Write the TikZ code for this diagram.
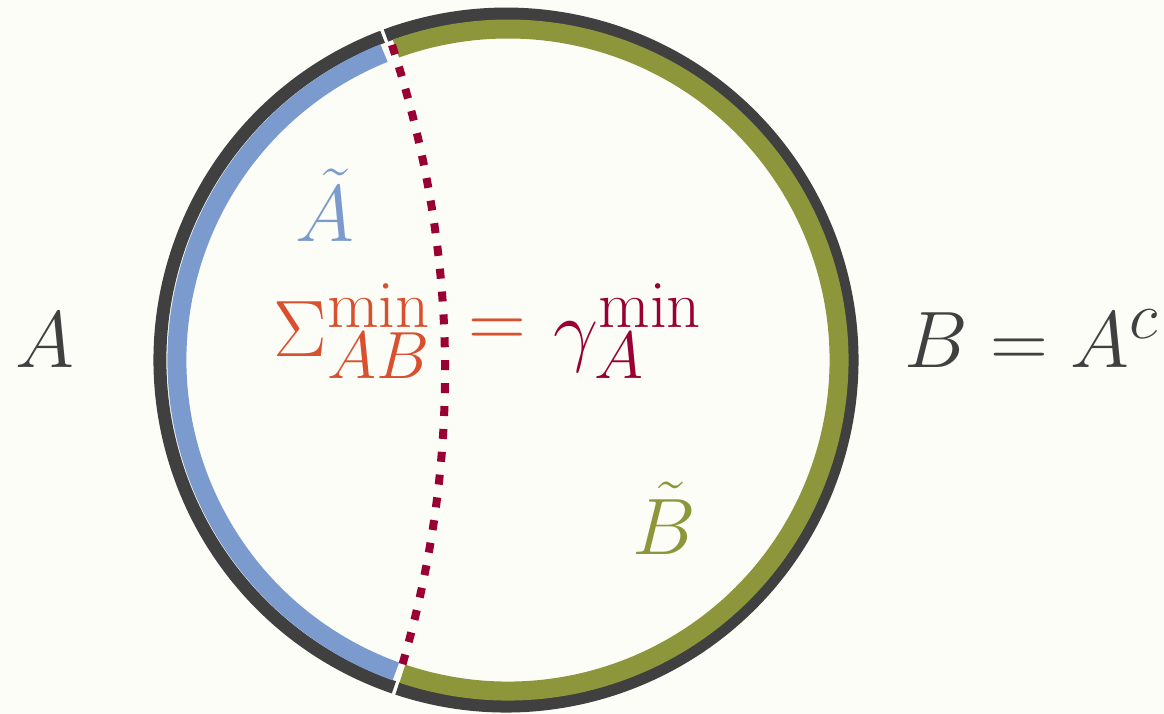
\documentclass[tikz,border=0pt]{standalone}
\usepackage{tikz}
\usetikzlibrary{positioning, calc}

\definecolor{paper}{HTML}{FCFDF7}
\definecolor{ringgray}{HTML}{404040}
\definecolor{arcblue}{HTML}{7B9BCF}
\definecolor{arcgreen}{HTML}{8E963B}
\definecolor{cutred}{HTML}{990033}
\definecolor{sigmared}{HTML}{D9502F}

\begin{document}
\begin{tikzpicture}[
  x=0.025cm, y=0.025cm,
  ring/.style = {draw=ringgray, line width=9.2pt},
  side/.style = {line width=13.5pt},
  cut/.style  = {draw=cutred, line width=5.7pt, dash pattern=on 7.1pt off 9.2pt},
  lbl/.style  = {inner sep=0pt, anchor=base west, font=\Huge, scale=2.29},
]
  % page and margins
  \fill[paper] (-506,-354) rectangle (658,360);
  \useasboundingbox (-506,-354) rectangle (658,360);

  % outer boundary, split at the two ends of the cut
  \draw[ring] (110.9:346) arc[start angle=110.9, end angle=251.1, radius=346];
  \draw[ring] (251.7:346) arc[start angle=251.7, end angle=470.3, radius=346];

  % the two halves of the boundary
  \coordinate (O) at (2,0);
  \draw[side, arcblue]  ($(O)+(112.0:331)$) arc[start angle=112.0, end angle=250.2, radius=331];
  \draw[side, arcgreen] ($(O)+(251.4:331)$) arc[start angle=251.4, end angle=469.8, radius=331];

  % minimal surface
  \coordinate (cuttop) at (-114,315);
  \coordinate (cutbot) at (-107,-316);
  \draw[cut] (cuttop) .. controls (-46,107) and (-43,-105) .. (cutbot);

  % labels
  \node[lbl, text=ringgray]  (A)   at (-491,-8)  {$A$};
  \node[lbl, text=arcblue]   (At)  at (-211,118) {$\tilde{A}$};
  \node[lbl, text=sigmared]  (sig) at (-233,3)   {$\Sigma^{\mathrm{min}}_{AB}$};
  \node[lbl, text=sigmared, anchor=center] (eq) at (-9,27) {$=$};
  \node[lbl, text=cutred]    (gam) at (47,3)     {$\gamma^{\mathrm{min}}_{A}$};
  \node[lbl, text=ringgray]  (B)   at (398,-8)   {$B = A^{c}$};
  \node[lbl, text=arcgreen]  (Bt)  at (126,-195) {$\tilde{B}$};
\end{tikzpicture}
\end{document}
